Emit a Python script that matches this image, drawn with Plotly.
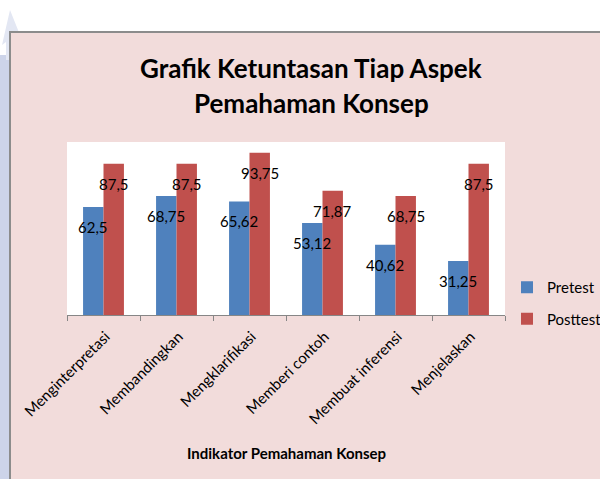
import plotly.graph_objects as go

categories = ["Menginterpretasi", "Membandingkan", "Mengklarifikasi",
              "Memberi contoh", "Membuat inferensi", "Menjelaskan"]
pretest = [62.5, 68.75, 65.62, 53.12, 40.62, 31.25]
posttest = [87.5, 87.5, 93.75, 71.87, 68.75, 87.5]
series_names = ["Pretest", "Posttest"]
colors = ["#4F81BD", "#C0504D"]

title_lines = ["Grafik Ketuntasan Tiap Aspek", "Pemahaman Konsep"]
x_title = "Indikator Pemahaman Konsep"

W_FIG, H_FIG = 600, 479
L, R, T, B = 67, 95, 142, 164
PW, PH = W_FIG - L - R, H_FIG - T - B

def fx(px):
    return (px - L) / PW

def fy(py):
    return 1 - (py - T) / PH

FONT = "Lato"

fig = go.Figure()
for name, vals, col in zip(series_names, [pretest, posttest], colors):
    fig.add_trace(go.Bar(
        x=categories, y=vals, name=name, marker_color=col,
        marker_line_width=0, legendgroup=name,
    ))

# data labels
for vals, shift in [(pretest, -11), (posttest, 10)]:
    for c, v in zip(categories, vals):
        fig.add_annotation(
            x=c, y=v, xref="x", yref="y", text=f"{v:g}".replace(".", ","),
            showarrow=False, xshift=shift, yshift=-20, yanchor="middle",
            font=dict(family=FONT, size=15, color="#000000"),
        )

shapes = [
    # left lavender strip
    dict(type="rect", xref="paper", yref="paper", x0=fx(0), x1=fx(10),
         y0=fy(479), y1=fy(55), fillcolor="#CDD4E9", line_width=0, layer="below"),
    # arrow decoration
    dict(type="path", xref="paper", yref="paper",
         path=f"M {fx(2)},{fy(45)} L {fx(10)},{fy(10)} L {fx(22)},{fy(40)} L {fx(14)},{fy(38)} L {fx(14)},{fy(60)} L {fx(6)},{fy(60)} L {fx(6)},{fy(42)} Z",
         fillcolor="#E3E7F3", line_width=0, layer="below"),
    # pink chart area
    dict(type="rect", xref="paper", yref="paper", x0=fx(10), x1=fx(602),
         y0=fy(482), y1=fy(32), fillcolor="#F2DCDB",
         line=dict(color="#8C8C8C", width=2), layer="below"),
    # white plot area
    dict(type="rect", xref="paper", yref="paper", x0=0, x1=1, y0=0, y1=1,
         fillcolor="#FFFFFF", line_width=0, layer="below"),
]

for line, ypx in zip(title_lines, [68, 103]):
    fig.add_annotation(
        xref="paper", yref="paper", x=fx(311), y=fy(ypx), yanchor="middle",
        text=line, showarrow=False,
        font=dict(family=FONT, size=26, color="#000000", weight="bold"))
fig.add_annotation(
    xref="paper", yref="paper", x=fx(286), y=fy(453), yanchor="middle",
    text=x_title, showarrow=False,
    font=dict(family=FONT, size=15, color="#000000", weight="bold"))

fig.update_layout(
    width=W_FIG, height=H_FIG,
    margin=dict(l=L, r=R, t=T, b=B, pad=0, autoexpand=False),
    paper_bgcolor="#FFFFFF", plot_bgcolor="rgba(0,0,0,0)",
    barmode="group", bargap=0.44, bargroupgap=0,
    shapes=shapes,
    showlegend=True,
    legend=dict(x=fx(507), y=fy(271), xanchor="left", yanchor="top",
                font=dict(family=FONT, size=15, color="#000000"),
                bgcolor="rgba(0,0,0,0)", traceorder="grouped",
                tracegroupgap=9, itemwidth=30),
    font=dict(family=FONT),
)
fig.update_xaxes(
    showline=True, linecolor="#868686", linewidth=1,
    ticks="outside", tickson="boundaries", ticklen=5, tickcolor="#868686",
    tickangle=-45, tickfont=dict(family=FONT, size=15, color="#000000"),
    ticklabelshift=2, ticklabelstandoff=6,
    showgrid=False, automargin=False,
)
fig.update_yaxes(range=[0, 100], visible=False, showgrid=False)

fig.write_html("out.html")
